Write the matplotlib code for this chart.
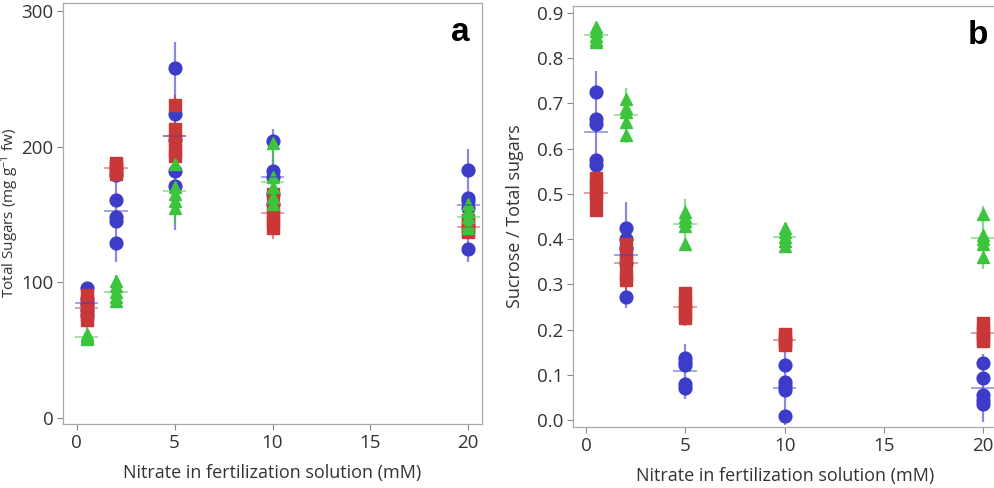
import numpy as np
import matplotlib
matplotlib.use("Agg")
import matplotlib.pyplot as plt

plt.rcParams['font.family'] = ['Open Sans', 'DejaVu Sans']
plt.rcParams['mathtext.fontset'] = 'custom'
plt.rcParams['mathtext.rm'] = 'Open Sans'
plt.rcParams['mathtext.it'] = 'Open Sans:italic'

# nitrate levels (mM)
nitrate = [0.5, 2, 5, 10, 20]

# panel a: total sugars (mg g-1 fw), replicates per nitrate level
sugar_blue = [[96, 88, 84, 80, 76],
              [179, 161, 148, 145, 129],
              [258, 224, 205, 182, 171],
              [204, 182, 178, 165, 158],
              [183, 162, 160, 155, 125]]
sugar_red = [[91, 86, 81, 76, 72],
             [188, 186, 184, 182, 180],
             [231, 213, 205, 197, 193],
             [165, 155, 150, 145, 140],
             [146, 143, 141, 139, 137]]
sugar_green = [[62, 61, 60, 59, 58],
               [101, 97, 93, 89, 86],
               [187, 170, 165, 160, 155],
               [203, 178, 170, 163, 158],
               [158, 153, 148, 143, 140]]

# panel b: sucrose / total sugars
ratio_blue = [[0.725, 0.665, 0.655, 0.575, 0.563],
              [0.424, 0.40, 0.38, 0.347, 0.272],
              [0.137, 0.128, 0.122, 0.08, 0.07],
              [0.122, 0.085, 0.075, 0.066, 0.009],
              [0.126, 0.093, 0.055, 0.045, 0.036]]
ratio_red = [[0.535, 0.52, 0.505, 0.49, 0.465],
             [0.39, 0.37, 0.35, 0.32, 0.31],
             [0.28, 0.26, 0.25, 0.235, 0.225],
             [0.19, 0.185, 0.175, 0.17, 0.165],
             [0.215, 0.20, 0.19, 0.18, 0.175]]
ratio_green = [[0.87, 0.86, 0.85, 0.84, 0.835],
               [0.71, 0.69, 0.68, 0.66, 0.63],
               [0.46, 0.45, 0.44, 0.43, 0.39],
               [0.425, 0.415, 0.405, 0.395, 0.385],
               [0.455, 0.41, 0.40, 0.39, 0.36]]

blue = '#3c3cc8'
red = '#c83838'
green = '#3cc43c'


def draw_group(ax, vals, color, marker):
    for x, v in zip(nitrate, vals):
        v = np.array(v)
        m = v.mean()
        sd = v.std(ddof=1)
        # whisker = mean +/- 2 sd, short tick at the mean
        ax.vlines(x, m - 2 * sd, m + 2 * sd, color=color, lw=1.6, alpha=0.6, zorder=2)
        ax.plot([x] * len(v), v, ls='none', marker=marker, ms=9.2, color=color,
                mec=color, zorder=3)
        ax.hlines(m, x - 0.6, x + 0.6, color=color, lw=1.2, alpha=0.55, zorder=4)


fig = plt.figure(figsize=(9.94, 4.88), dpi=100)
ax1 = fig.add_axes([0.0634, 0.1311, 0.4215, 0.8627])
ax2 = fig.add_axes([0.5765, 0.125, 0.4266, 0.8627])

draw_group(ax1, sugar_blue, blue, 'o')
draw_group(ax1, sugar_red, red, 's')
draw_group(ax1, sugar_green, green, '^')
draw_group(ax2, ratio_blue, blue, 'o')
draw_group(ax2, ratio_red, red, 's')
draw_group(ax2, ratio_green, green, '^')

ax1.set_xlim(-0.7, 20.7)
ax1.set_ylim(-4.4, 306)
ax1.set_yticks([0, 100, 200, 300])
ax2.set_xlim(-0.65, 20.7)
ax2.set_ylim(-0.0155, 0.9155)
ax2.set_yticks(np.arange(0, 0.91, 0.1))
ax2.set_yticklabels(['%.1f' % t for t in np.arange(0, 0.91, 0.1)])

for ax in (ax1, ax2):
    ax.set_xticks([0, 5, 10, 15, 20])
    ax.tick_params(length=4, width=0.8, color='#888888', labelsize=13.5,
                   labelcolor='#333333', pad=3)
    for s in ax.spines.values():
        s.set_color('#aaaaaa')
        s.set_linewidth(0.9)
    ax.set_xlabel('Nitrate in fertilization solution (mM)', fontsize=13, color='#333333')
    ax.xaxis.set_label_coords(0.5, -0.094)

# left label squeezed into the narrow margin
ax1.set_ylabel('Total Sugars (mg g$^{-1}$ fw)', fontsize=11, color='#333333')
ax1.yaxis.set_label_coords(-0.1, 0.5)
ax2.set_ylabel('Sucrose / Total sugars', fontsize=13, color='#333333')
ax2.yaxis.set_label_coords(-0.116, 0.5)

ax1.text(0.97, 0.91, 'a', transform=ax1.transAxes, ha='right', va='baseline',
         fontsize=24, fontweight='bold', family='Liberation Sans')
ax2.text(0.98, 0.91, 'b', transform=ax2.transAxes, ha='right', va='baseline',
         fontsize=24, fontweight='bold', family='Liberation Sans')

fig.savefig('out.png', dpi=100)
